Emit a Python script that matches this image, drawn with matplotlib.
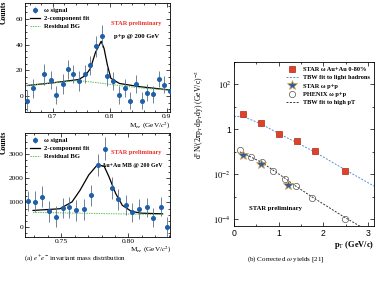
import matplotlib
matplotlib.use("Agg")
import matplotlib.pyplot as plt
from matplotlib.ticker import AutoMinorLocator, LogLocator, NullFormatter, FixedFormatter

SERIF = "Liberation Serif"
SANS = "Liberation Sans"
plt.rcParams["mathtext.fontset"] = "stix"

# p+p omega signal
pp_mass = [0.655, 0.665, 0.685, 0.696, 0.706, 0.717, 0.726, 0.736, 0.746, 0.756, 0.766, 0.776,
           0.786, 0.796, 0.806, 0.816, 0.826, 0.836, 0.846, 0.856, 0.866, 0.876, 0.886, 0.896, 0.906]
pp_counts = [-3.3, 6.3, 17, 12.7, 0.8, 9.4, 20.8, 17, 12, 17, 24, 38.5,
             46.8, 15.7, 12, 0.8, 6.3, -3.3, 9.4, -3.3, 3, 1.8, 13.4, 9, 3.8]
pp_err = [8, 7.5, 8, 7, 7, 7.5, 7.5, 7, 7.5, 7, 7.5, 8,
          8.5, 7.5, 7, 7, 7, 6.5, 7, 6.5, 6.5, 6.5, 6.5, 6.5, 6.5]
pp_fit_mass = [0.655, 0.70, 0.745, 0.757, 0.766, 0.775, 0.785, 0.79, 0.796, 0.802, 0.817, 0.853, 0.905]
pp_fit = [8.4, 10.5, 13, 16, 21.5, 34, 42.5, 37, 24, 14, 10, 7.5, 5]
pp_bg_mass = [0.655, 0.70, 0.745, 0.78, 0.82, 0.86, 0.905]
pp_bg = [8.4, 10.5, 12.2, 10.5, 8.2, 6.3, 4.8]

# Au+Au omega signal
au_mass = [0.725, 0.7305, 0.736, 0.741, 0.746, 0.751, 0.756, 0.761, 0.7668, 0.772, 0.777,
           0.7825, 0.7875, 0.7925, 0.798, 0.803, 0.808, 0.8135, 0.8185, 0.824, 0.829]
au_counts = [1060, 1030, 1240, 630, 420, 770, 800, 670, 710, 1300, 2550,
             3210, 1600, 1120, 890, 590, 730, 800, 380, 830, 0]
au_err = [420, 420, 420, 430, 420, 420, 420, 420, 420, 430, 450,
          480, 440, 420, 400, 400, 400, 400, 380, 380, 420]
au_fit_mass = [0.729, 0.749, 0.758, 0.764, 0.7705, 0.777, 0.782, 0.7855, 0.7905, 0.7955, 0.802, 0.809, 0.8255]
au_fit = [670, 740, 1020, 1500, 2130, 2550, 2480, 2060, 1370, 880, 640, 560, 530]
au_bg_mass = [0.729, 0.8255]
au_bg = [590, 500]

# corrected yields
auau_pt = [0.21, 0.60, 1.0, 1.40, 1.80, 2.48]
auau_yield = [5.0, 1.9, 0.6, 0.29, 0.105, 0.014]
star_pp_pt = [0.21, 0.60, 1.20]
star_pp_yield = [0.075, 0.028, 0.0032]
phenix_pt = [0.13, 0.38, 0.63, 0.88, 1.13, 1.38, 1.74, 2.48]
phenix_yield = [0.117, 0.059, 0.035, 0.0136, 0.0064, 0.0029, 0.00089, 0.000107]
tbw_light_pt = [0.0, 0.21, 0.6, 1.0, 1.4, 1.8, 2.48, 3.13]
tbw_light = [3.8, 3.7, 1.78, 0.65, 0.26, 0.1, 0.0162, 0.003]
tbw_high_pt = [0.13, 0.38, 0.63, 0.88, 1.13, 1.38, 1.74, 2.48, 2.85]
tbw_high = [0.1, 0.059, 0.033, 0.0151, 0.0069, 0.003, 0.001, 0.00012, 0.000045]
yield_ticks = [1e-4, 1e-2, 1, 1e2]
yield_tick_labels = [r"$10^{-4}$", r"$10^{-2}$", "1", r"$10^{2}$"]

fig = plt.figure(figsize=(3.79, 2.81), dpi=100)
W, H = 379.0, 281.0


def box(l, t, r, b):
    return [l / W, 1 - b / H, (r - l) / W, (b - t) / H]


def style_ticks(ax, font, size, pad=2):
    ax.tick_params(which="both", direction="in", top=True, right=True, width=0.5,
                   labelsize=size)
    ax.tick_params(which="major", length=3, pad=pad)
    ax.tick_params(which="minor", length=1.5)
    for lab in ax.get_xticklabels() + ax.get_yticklabels():
        lab.set_fontfamily(font)
    for s in ax.spines.values():
        s.set_linewidth(0.6)


def mass_panel(ax, m, c, e, fm, f, bm, b):
    pts = ax.errorbar(m, c, yerr=e, fmt="o", ms=2.6, color="#1d5fa8", ecolor="#5a6f86",
                      elinewidth=0.6, capsize=0, zorder=3)
    fit, = ax.plot(fm, f, color="black", lw=0.9, zorder=2)
    bg, = ax.plot(bm, b, color="#5cc35c", lw=0.7, ls=(0, (1.5, 1)), zorder=2)
    ax.xaxis.set_minor_locator(AutoMinorLocator(5))
    ax.yaxis.set_minor_locator(AutoMinorLocator(4))
    ax.legend([pts, fit, bg], ["\u03c9 signal", "2-component fit", "Residual BG"],
              loc="upper left", frameon=False, handlelength=1.6, handletextpad=0.5,
              borderaxespad=0.3, labelspacing=0.35,
              prop={"family": SERIF, "size": 4.8, "weight": "bold"})


# top-left: p+p
ax1 = fig.add_axes(box(25, 3, 170, 112))
mass_panel(ax1, pp_mass, pp_counts, pp_err, pp_fit_mass, pp_fit, pp_bg_mass, pp_bg)
ax1.set_xlim(0.651, 0.906)
ax1.set_ylim(-12, 72)
ax1.set_xticks([0.7, 0.8, 0.9])
ax1.set_yticks([0, 20, 40, 60])
style_ticks(ax1, SERIF, 5.4, pad=1.2)
ax1.text(0.77, 0.80, "STAR preliminary", transform=ax1.transAxes, color="#e8312a",
         fontfamily=SERIF, fontsize=4.6, fontweight="bold", ha="center")
ax1.text(0.77, 0.68, "p+p @ 200 GeV", transform=ax1.transAxes,
         fontfamily=SERIF, fontsize=4.8, fontweight="bold", ha="center")
fig.text(4 / W, 1 - 1 / H, "Counts", rotation=90, ha="center", va="top",
         fontfamily=SERIF, fontsize=5.5, fontweight="bold")
fig.text(171 / W, 1 - 126 / H, r"M$_{ee}$ (GeV/$c^2$)", ha="right", va="center",
         fontfamily=SERIF, fontsize=5.2)

# bottom-left: Au+Au
ax2 = fig.add_axes(box(25, 133, 170, 237))
mass_panel(ax2, au_mass, au_counts, au_err, au_fit_mass, au_fit, au_bg_mass, au_bg)
ax2.set_xlim(0.723, 0.831)
ax2.set_ylim(-420, 3850)
ax2.set_xticks([0.75, 0.8])
ax2.set_yticks([0, 1000, 2000, 3000])
style_ticks(ax2, SERIF, 5.4, pad=1.2)
ax2.text(0.77, 0.80, "STAR preliminary", transform=ax2.transAxes, color="#e8312a",
         fontfamily=SERIF, fontsize=4.6, fontweight="bold", ha="center")
ax2.text(0.74, 0.67, "Au+Au MB @ 200 GeV", transform=ax2.transAxes,
         fontfamily=SERIF, fontsize=4.3, fontweight="bold", ha="center")
fig.text(4 / W, 1 - 131 / H, "Counts", rotation=90, ha="center", va="top",
         fontfamily=SERIF, fontsize=5.5, fontweight="bold")
fig.text(172 / W, 1 - 250 / H, r"M$_{ee}$ (GeV/$c^2$)", ha="right", va="center",
         fontfamily=SERIF, fontsize=5.2)

# right: corrected yields
ax3 = fig.add_axes(box(234, 62, 374, 226))
ax3.set_yscale("log")
sq = ax3.errorbar(auau_pt, auau_yield,
                  yerr=[[v * 0.25 for v in auau_yield], [v * 0.25 for v in auau_yield]],
                  fmt="s", ms=4, mfc="#e0412b", mec="#b02a18", mew=0.5, ecolor="#7a2a1a",
                  elinewidth=0.6, capsize=0, zorder=4)
light, = ax3.plot(tbw_light_pt, tbw_light, color="#5b8fd0", lw=0.7, ls=(0, (2, 1.5)), zorder=2)
star, = ax3.plot(star_pp_pt, star_pp_yield, ls="none", marker="*", ms=7, mfc="#2c5ea8",
                 mec="#d8a040", mew=0.5, zorder=5)
phenix, = ax3.plot(phenix_pt, phenix_yield, ls="none", marker="o", ms=4.5, mfc="none",
                   mec="#555555", mew=0.5, zorder=3)
high, = ax3.plot(tbw_high_pt, tbw_high, color="#333333", lw=0.7, ls=(0, (2, 1.5)), zorder=2)
ax3.set_xlim(0, 3.13)
ax3.set_ylim(10 ** -4.3, 10 ** 3)
ax3.set_xticks([0, 1, 2, 3])
ax3.yaxis.set_minor_locator(LogLocator(base=10, subs=[1.0], numticks=20))
ax3.yaxis.set_minor_formatter(NullFormatter())
ax3.set_yticks(yield_ticks)
ax3.yaxis.set_major_formatter(FixedFormatter(yield_tick_labels))
ax3.xaxis.set_minor_locator(AutoMinorLocator(2))
style_ticks(ax3, SANS, 6.2)
ax3.legend([sq, light, star, phenix, high],
           ["STAR \u03c9 Au+Au 0-80%", "TBW fit to light hadrons", "STAR \u03c9 p+p",
            "PHENIX \u03c9 p+p", "TBW fit to high pT"],
           loc="upper right", frameon=False, handlelength=2.0, handletextpad=0.6,
           borderaxespad=0.3, labelspacing=0.45,
           prop={"family": SERIF, "size": 4.6, "weight": "bold"})
ax3.text(0.11, 0.10, "STAR preliminary", transform=ax3.transAxes,
         fontfamily=SERIF, fontsize=4.8, fontweight="bold")
ax3.set_xlabel(r"p$_{\mathrm{T}}$ (GeV/c)", fontfamily=SERIF, fontsize=6,
               fontweight="bold", loc="right", labelpad=1)
fig.text(199 / W, 1 - 114 / H,
         r"d$^2$N/(2$\pi$p$_{\mathrm{T}}$dp$_{\mathrm{T}}$dy) (GeV/c)$^{-2}$",
         rotation=90, ha="center", va="center", fontfamily=SERIF, fontsize=5.5)

# captions
fig.text(75 / W, 1 - 259 / H, r"(a) $e^{+}e^{-}$ invariant mass distribution",
         ha="center", va="center", fontfamily=SERIF, fontsize=5)
fig.text(286 / W, 1 - 259 / H, r"(b) Corrected $\omega$ yields [21]",
         ha="center", va="center", fontfamily=SERIF, fontsize=5)

fig.savefig("out.png", dpi=100)
